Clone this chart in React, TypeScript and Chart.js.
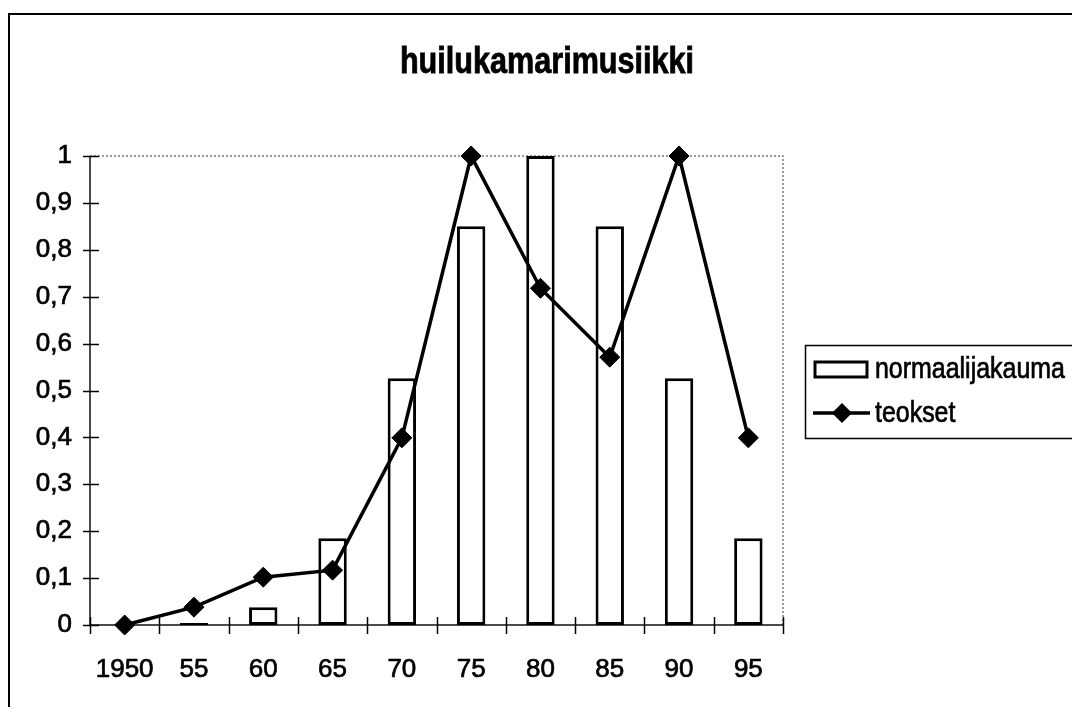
import { useEffect, useRef } from 'react';
import { Chart, registerables } from 'chart.js';
Chart.register(...registerables);

const categories = ['1950', '55', '60', '65', '70', '75', '80', '85', '90', '95'];
const normaalijakauma = [0, 0.004, 0.038, 0.185, 0.526, 0.85, 1.0, 0.85, 0.526, 0.185];
const teokset = [0, 0.038, 0.102, 0.117, 0.399, 1.0, 0.718, 0.571, 1.0, 0.399];
const yTickLabels = ['0', '0,1', '0,2', '0,3', '0,4', '0,5', '0,6', '0,7', '0,8', '0,9', '1'];
const titleText = 'huilukamarimusiikki';
const seriesNames = ['normaalijakauma', 'teokset'];

const FONT = '"Liberation Sans", Arial, sans-serif';

const decor = {
  id: 'decor',
  beforeDraw(chart: any) {
    const { ctx, width, height } = chart;
    ctx.save();
    ctx.fillStyle = '#fff';
    ctx.fillRect(0, 0, width, height);
    ctx.strokeStyle = '#000';
    ctx.lineWidth = 2;
    ctx.beginPath();
    ctx.moveTo(1, height + 5);
    ctx.lineTo(1, 6);
    ctx.lineTo(width + 5, 6);
    ctx.stroke();
    ctx.restore();
  },
  beforeDatasetsDraw(chart: any) {
    const { ctx, chartArea: a, scales } = chart;
    ctx.save();
    ctx.strokeStyle = '#7a7a7a';
    ctx.lineWidth = 1.5;
    ctx.setLineDash([2, 2]);
    ctx.beginPath();
    ctx.moveTo(a.left, a.top);
    ctx.lineTo(a.right, a.top);
    ctx.lineTo(a.right, a.bottom);
    ctx.stroke();
    ctx.setLineDash([]);
    ctx.strokeStyle = '#111';
    ctx.lineWidth = 1.5;
    ctx.beginPath();
    ctx.moveTo(a.left, a.top);
    ctx.lineTo(a.left, a.bottom);
    ctx.lineTo(a.right, a.bottom);
    ctx.stroke();
    ctx.strokeStyle = '#000';
    scales.y.ticks.forEach((t: any) => {
      const y = Math.round(scales.y.getPixelForValue(t.value)) + 0.5;
      ctx.beginPath();
      ctx.moveTo(a.left - 7, y);
      ctx.lineTo(a.left + 9, y);
      ctx.stroke();
    });
    const n = categories.length;
    for (let i = 0; i <= n; i++) {
      const x = Math.round(a.left + (i * (a.right - a.left)) / n) + 0.5;
      ctx.beginPath();
      ctx.moveTo(x, a.bottom - 8);
      ctx.lineTo(x, a.bottom + 9);
      ctx.stroke();
    }
    ctx.restore();
  },
  afterDraw(chart: any) {
    const { ctx } = chart;
    ctx.save();
    ctx.fillStyle = '#000';
    ctx.strokeStyle = '#000';
    ctx.lineWidth = 0.8;
    ctx.font = `bold 36px ${FONT}`;
    ctx.textAlign = 'center';
    ctx.textBaseline = 'alphabetic';
    ctx.translate(539, 65);
    ctx.scale(0.85, 1);
    ctx.fillText(titleText, 0, 0);
    ctx.strokeText(titleText, 0, 0);
    ctx.restore();

    ctx.save();
    ctx.strokeStyle = '#000';
    ctx.lineWidth = 1.5;
    ctx.strokeRect(797.5, 337.5, 400, 93);
    ctx.fillStyle = '#fff';
    ctx.lineWidth = 3;
    ctx.fillRect(807, 354, 52, 15);
    ctx.strokeRect(807, 354, 52, 15);
    ctx.lineWidth = 3.5;
    ctx.beginPath();
    ctx.moveTo(805, 405);
    ctx.lineTo(862, 405);
    ctx.stroke();
    ctx.fillStyle = '#000';
    ctx.beginPath();
    ctx.moveTo(834, 395);
    ctx.lineTo(844, 405);
    ctx.lineTo(834, 415);
    ctx.lineTo(824, 405);
    ctx.closePath();
    ctx.fill();
    ctx.font = `29px ${FONT}`;
    ctx.textAlign = 'left';
    ctx.textBaseline = 'middle';
    ctx.lineWidth = 0.7;
    ctx.translate(867, 0);
    ctx.scale(0.86, 1);
    ctx.fillText(seriesNames[0], 0, 362);
    ctx.strokeText(seriesNames[0], 0, 362);
    ctx.fillText(seriesNames[1], 0, 406);
    ctx.strokeText(seriesNames[1], 0, 406);
    ctx.restore();
  },
};

export default function App() {
  const ref = useRef<HTMLCanvasElement>(null);
  useEffect(() => {
    if (!ref.current) return;
    const chart = new Chart(ref.current, {
      type: 'bar',
      data: {
        labels: categories,
        datasets: [
          {
            type: 'line',
            label: seriesNames[1],
            data: teokset,
            borderColor: '#000',
            backgroundColor: '#000',
            borderWidth: 3.5,
            pointStyle: 'rectRot',
            pointRadius: 10,
            pointBackgroundColor: '#000',
            pointBorderColor: '#000',
            pointBorderWidth: 1,
            tension: 0,
            clip: false,
            order: 0,
          } as any,
          {
            type: 'bar',
            label: seriesNames[0],
            data: normaalijakauma,
            backgroundColor: '#fff',
            borderColor: '#000',
            borderWidth: 3,
            borderSkipped: false,
            barPercentage: 0.41,
            categoryPercentage: 1,
            clip: false,
            order: 1,
          } as any,
        ],
      },
      options: {
        responsive: false,
        animation: false,
        layout: { padding: { left: 0, top: 148, right: 297, bottom: 0 } },
        plugins: {
          legend: { display: false },
          title: { display: false },
          tooltip: { enabled: false },
        },
        scales: {
          x: {
            grid: { display: false, drawTicks: false },
            border: { display: false },
            ticks: {
              color: '#000',
              font: { family: FONT, size: 26 },
              textStrokeColor: '#000',
              textStrokeWidth: 0.7,
              padding: 29,
              maxRotation: 0,
              autoSkip: false,
            },
            afterFit: (s: any) => {
              s.height = 82;
            },
          },
          y: {
            min: 0,
            max: 1,
            grid: { display: false, drawTicks: false },
            border: { display: false },
            ticks: {
              stepSize: 0.1,
              color: '#000',
              font: { family: FONT, size: 26 },
              textStrokeColor: '#000',
              textStrokeWidth: 0.7,
              padding: 18,
              callback: (_v: any, i: number) => yTickLabels[i],
            },
            afterFit: (s: any) => {
              s.width = 82;
            },
          },
        },
      },
      plugins: [decor],
    });
    return () => chart.destroy();
  }, []);
  return <canvas ref={ref} width={1072} height={699} style={{ display: 'block' }} />;
}
